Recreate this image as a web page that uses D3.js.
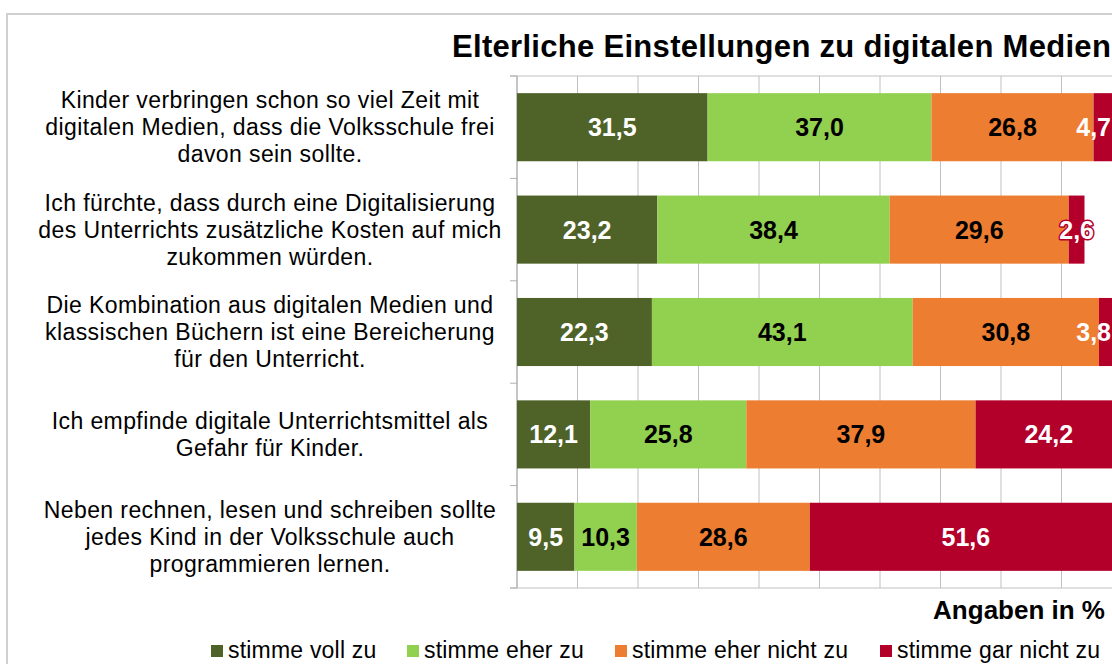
<!DOCTYPE html>
<html>
<head>
<meta charset="utf-8">
<script src="https://cdn.jsdelivr.net/npm/d3@7"></script>
<style>
  body { margin: 0; background: #fff; }
  svg { display: block; }
  text { font-family: "Liberation Sans", Arial, sans-serif; }
</style>
</head>
<body>
<svg id="chart" width="1112" height="664"></svg>
<script>
// Statements (wrapped as shown on the category axis)
const statements = [
  ["Kinder verbringen schon so viel Zeit mit", "digitalen Medien, dass die Volksschule frei", "davon sein sollte."],
  ["Ich fürchte, dass durch eine Digitalisierung", "des Unterrichts zusätzliche Kosten auf mich", "zukommen würden."],
  ["Die Kombination aus digitalen Medien und", "klassischen Büchern ist eine Bereicherung", "für den Unterricht."],
  ["Ich empfinde digitale Unterrichtsmittel als", "Gefahr für Kinder."],
  ["Neben rechnen, lesen und schreiben sollte", "jedes Kind in der Volksschule auch", "programmieren lernen."]
];
const categories = statements.map((lines, i) => "S" + (i + 1));

const seriesNames = ["stimme voll zu", "stimme eher zu", "stimme eher nicht zu", "stimme gar nicht zu"];
const stimmeVollZu      = [31.5, 23.2, 22.3, 12.1, 9.5];
const stimmeEherZu      = [37.0, 38.4, 43.1, 25.8, 10.3];
const stimmeEherNichtZu = [26.8, 29.6, 30.8, 37.9, 28.6];
const stimmeGarNichtZu  = [4.7, 2.6, 3.8, 24.2, 51.6];

const gridTicks = [0, 10, 20, 30, 40, 50, 60, 70, 80, 90, 100];

const titleText = "Elterliche Einstellungen zu digitalen Medien";
const axisTitle = "Angaben in %";

const colors = ["#4f6228", "#92d050", "#ed7d31", "#b3002b"];
const labelColors = ["#ffffff", "#000000", "#000000", "#ffffff"];

// ---- build stacked table ----
const table = categories.map((c, i) => ({
  cat: c,
  [seriesNames[0]]: stimmeVollZu[i],
  [seriesNames[1]]: stimmeEherZu[i],
  [seriesNames[2]]: stimmeEherNichtZu[i],
  [seriesNames[3]]: stimmeGarNichtZu[i]
}));
const stacked = d3.stack().keys(seriesNames)(table);

const svg = d3.select("#chart");

// chart frame
svg.append("path")
  .attr("d", "M7,664 V14 H1112")
  .attr("fill", "none")
  .attr("stroke", "#d0d0d0")
  .attr("stroke-width", 2);

// title
svg.append("text")
  .attr("x", 452).attr("y", 57)
  .attr("font-size", 31).attr("font-weight", "bold")
  .attr("letter-spacing", 0.3)
  .attr("fill", "#000")
  .text(titleText);

// scales
const plotLeft = 517, plotRight = 1122, plotTop = 76, plotBottom = 588;
const x = d3.scaleLinear().domain([0, 100]).range([plotLeft, plotRight]);
const y = d3.scaleBand().domain(categories).range([plotTop, plotBottom])
  .paddingInner(0.335).paddingOuter(0.1675);

const grid = svg.append("g");
// vertical gridlines
grid.selectAll("line.v").data(gridTicks.filter(t => t > 0)).join("line")
  .attr("x1", d => x(d)).attr("x2", d => x(d))
  .attr("y1", plotTop).attr("y2", plotBottom)
  .attr("stroke", "#c0c0c0").attr("stroke-width", 1);
// top and bottom plot border
grid.selectAll("line.h").data([plotTop, plotBottom]).join("line")
  .attr("x1", plotLeft - 7).attr("x2", 1112)
  .attr("y1", d => d).attr("y2", d => d)
  .attr("stroke", "#c0c0c0").attr("stroke-width", 1);

// category axis line and boundary ticks
const step = y.step();
const outer = (y.range()[1] - y.range()[0] - step * categories.length) / 2;
const boundaries = d3.range(categories.length + 1).map(i => plotTop + outer + i * step);
grid.append("line")
  .attr("x1", plotLeft).attr("x2", plotLeft)
  .attr("y1", plotTop).attr("y2", plotBottom)
  .attr("stroke", "#b0b0b0").attr("stroke-width", 1.5);
grid.selectAll("line.t").data(boundaries).join("line")
  .attr("x1", plotLeft - 7).attr("x2", plotLeft)
  .attr("y1", d => d).attr("y2", d => d)
  .attr("stroke", "#b0b0b0").attr("stroke-width", 1);

// bars
const layers = svg.append("g").selectAll("g").data(stacked).join("g")
  .attr("fill", (d, i) => colors[i]);
layers.selectAll("rect").data(d => d).join("rect")
  .attr("x", d => x(d[0]))
  .attr("width", d => x(d[1]) - x(d[0]))
  .attr("y", d => y(d.data.cat))
  .attr("height", y.bandwidth());

// value labels, centred on their segment and kept inside the chart's right edge
const chartRight = 1111;
const labelG = svg.append("g");
stacked.forEach((layer, si) => {
  layer.forEach(d => {
    const v = d[1] - d[0];
    const t = labelG.append("text")
      .attr("font-size", 25).attr("font-weight", "bold")
      .attr("fill", labelColors[si])
      .attr("text-anchor", "middle")
      .attr("y", y(d.data.cat) + y.bandwidth() / 2 + 9)
      .text(d3.format(".1f")(v).replace(".", ","));
    const w = t.node().getComputedTextLength();
    let cx = (x(d[0]) + x(d[1])) / 2;
    if (cx + w / 2 > chartRight) cx = chartRight - w / 2;
    t.attr("x", cx);
    // a white label that runs past the end of its bar gets a halo in the bar colour
    if (labelColors[si] === "#ffffff" && cx + w / 2 > x(d[1]) && x(d[1]) < 1112) {
      t.attr("stroke", colors[si]).attr("stroke-width", 3)
        .attr("paint-order", "stroke").attr("stroke-linejoin", "round");
    }
  });
});

// category labels
const catG = svg.append("g");
statements.forEach((lines, i) => {
  const cy = y(categories[i]) + y.bandwidth() / 2;
  const lh = 27;
  const t = catG.append("text")
    .attr("font-size", 23)
    .attr("letter-spacing", 0.4)
    .attr("text-anchor", "middle")
    .attr("fill", "#000");
  lines.forEach((ln, j) => {
    t.append("tspan")
      .attr("x", 270)
      .attr("y", cy + (j - (lines.length - 1) / 2) * lh + 8)
      .text(ln);
  });
});

// axis title
svg.append("text")
  .attr("x", 1105).attr("y", 619)
  .attr("text-anchor", "end")
  .attr("font-size", 26).attr("font-weight", "bold")
  .text(axisTitle);

// legend
const legendX = [211, 407, 615, 880];
const legend = svg.append("g").selectAll("g").data(seriesNames).join("g")
  .attr("transform", (d, i) => `translate(${legendX[i]},645)`);
legend.append("rect")
  .attr("width", 12).attr("height", 12)
  .attr("fill", (d, i) => colors[i]);
legend.append("text")
  .attr("x", 17).attr("y", 13)
  .attr("font-size", 23)
  .attr("letter-spacing", 0.2)
  .text(d => d);
</script>
</body>
</html>
